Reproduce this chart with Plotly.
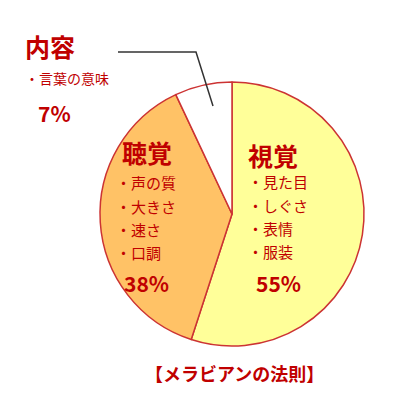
import plotly.graph_objects as go

labels = ["視覚", "聴覚", "内容"]
values = [55, 38, 7]
colors = ["#FFFF99", "#FFC266", "#FFFFFF"]

W = H = 405
def px(x): return x / W
def py(y): return 1 - y / H

fig = go.Figure(go.Pie(
    labels=labels, values=values, sort=False, direction="clockwise", rotation=0,
    marker=dict(colors=colors, line=dict(color="#CC3333", width=1.5)),
    textinfo="none", hoverinfo="label+percent", showlegend=False,
    domain=dict(x=[px(86), px(362)], y=[py(338), py(74)]),
))

red = "#C00000"
F = "Noto Sans CJK JP"
ann = []
def t(x, y, s, size, bold=False):
    ann.append(dict(x=px(x - 10), y=py(y - 8), xref="paper", yref="paper", text=f"<b>{s}</b>" if bold else s,
                    showarrow=False, xanchor="left", yanchor="middle",
                    font=dict(family=F, size=size, color=red)))

t(248, 155, "視覚", 25, True)
for i, s in enumerate(["・見た目", "・しぐさ", "・表情", "・服装"]):
    t(248, 182 + i * 23, s, 15)
t(256, 283, "55%", 21, True)

t(122, 152, "聴覚", 25, True)
for i, s in enumerate(["・声の質", "・大きさ", "・速さ", "・口調"]):
    t(116, 183 + i * 23, s, 15)
t(124, 283, "38%", 21, True)

t(25, 46, "内容", 25, True)
t(25, 78, "・言葉の意味", 14)
t(38, 113, "7%", 21, True)

ann.append(dict(x=0.56, y=py(380), xref="paper", yref="paper", text="<b>【メラビアンの法則】</b>",
                showarrow=False, font=dict(family=F, size=18, color=red)))

fig.update_layout(
    width=W, height=H, margin=dict(l=0, r=0, t=0, b=0),
    paper_bgcolor="white", plot_bgcolor="white", annotations=ann,
    shapes=[dict(type="path", xref="paper", yref="paper",
                 path=f"M {px(110)} {py(44)} L {px(188)} {py(44)} L {px(205)} {py(98)}",
                 line=dict(color="#333333", width=1.5))],
)
fig.write_html("out.html")
